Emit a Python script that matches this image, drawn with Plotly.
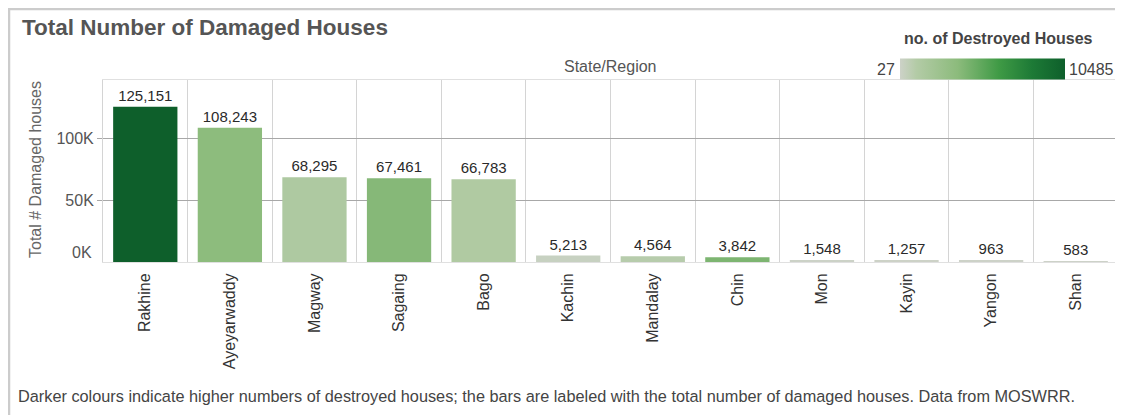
import plotly.graph_objects as go

states = ["Rakhine", "Ayeyarwaddy", "Magway", "Sagaing", "Bago", "Kachin",
          "Mandalay", "Chin", "Mon", "Kayin", "Yangon", "Shan"]
damaged = [125151, 108243, 68295, 67461, 66783, 5213, 4564, 3842, 1548, 1257, 963, 583]
destroyed = [10485, 3600, 1400, 3900, 1300, 250, 900, 4200, 60, 45, 35, 27]
y_tickvals = [0, 50000, 100000]
y_ticktext = ["0K", "50K", "100K"]

colorscale = [[0.0, "#cdd2c8"], [0.1, "#b3cba6"], [0.35, "#8cbb7c"],
              [0.6, "#3f9a45"], [0.8, "#1d7a36"], [1.0, "#0e5f2b"]]

FONT = "Liberation Sans, Arial, sans-serif"

# The page body adds an 8px offset; design in screen pixels and shift.
O = 8
FW, FH = 1123 - O, 415 - O
L, R, T, B = 103, 1118, 80, 262          # plot area in screen pixels
W, H = R - L, B - T
def px(x):
    return (x - L) / W
def py(y):
    return (B - y) / H

fig = go.Figure()
fig.add_trace(go.Bar(
    x=states, y=damaged,
    marker=dict(color=destroyed, colorscale=colorscale, cmin=min(destroyed), cmax=max(destroyed),
                line=dict(width=0),
                colorbar=dict(orientation="h", x=px(982.5), xanchor="center", y=py(68.5), yanchor="middle",
                              thickness=21, len=165, lenmode="pixels", outlinewidth=0, xpad=0, ypad=0,
                              showticklabels=False, ticks="", title=dict(text=""))),
    texttemplate="%{y:,}", textposition="outside", cliponaxis=False,
    textfont=dict(family=FONT, size=15, color="#2a2a2a"),
    showlegend=False, hoverinfo="x+y",
))

fig.update_layout(
    width=FW, height=FH,
    margin=dict(l=L - O, r=FW - (R - O), t=T - O, b=FH - (B - O), autoexpand=False),
    paper_bgcolor="white", plot_bgcolor="white",
    bargap=0.24,
    font=dict(family=FONT, color="#444444"),
    xaxis=dict(type="category", tickson="boundaries", showgrid=True, gridcolor="#d4d4d4", gridwidth=1,
               tickangle=-90, ticks="", ticklen=0, ticklabelstandoff=4,
               tickfont=dict(family=FONT, size=16, color="#333333"),
               showline=True, linecolor="#e0e0e0", mirror=True, zeroline=False),
    yaxis=dict(range=[0, 146800], tickvals=y_tickvals[1:], ticktext=y_ticktext[1:], showgrid=True,
               gridcolor="#a8a8a8", gridwidth=1, zeroline=False, ticks="outside", ticklen=5,
               tickcolor="#a8a8a8", tickfont=dict(family=FONT, size=16, color="#555555"),
               showline=True, linecolor="#d4d4d4", mirror=True),
)

annotations = [
    dict(text="<b>Total Number of Damaged Houses</b>", x=px(20), y=py(28), xanchor="left",
         font=dict(family=FONT, size=22.5, color="#555555")),
    dict(text=y_ticktext[0], x=px(94), y=py(252), xanchor="right",
         font=dict(family=FONT, size=16, color="#555555")),
    dict(text="Total # Damaged houses", x=px(35), y=py(170), textangle=-90,
         font=dict(family=FONT, size=16, color="#666666")),
    dict(text="State/Region", x=px(610), y=py(66),
         font=dict(family=FONT, size=16, color="#555555")),
    dict(text="<b>no. of Destroyed Houses</b>", x=px(998), y=py(39),
         font=dict(family=FONT, size=16, color="#444444")),
    dict(text=str(min(destroyed)), x=px(897), y=py(69), xanchor="right",
         font=dict(family=FONT, size=16, color="#444444")),
    dict(text=str(max(destroyed)), x=px(1067), y=py(69), xanchor="left",
         font=dict(family=FONT, size=16, color="#444444")),
    dict(text="Darker colours indicate higher numbers of destroyed houses; the bars are labeled with the total number of damaged houses. Data from MOSWRR.",
         x=px(16), y=py(396), xanchor="left",
         font=dict(family=FONT, size=16.3, color="#444444")),
]
for a in annotations:
    a.setdefault("xanchor", "center")
    a.update(xref="paper", yref="paper", yanchor="middle", showarrow=False)
fig.update_layout(annotations=annotations)

fig.add_shape(type="rect", xref="paper", yref="paper", x0=px(9), x1=px(1128), y0=py(420), y1=py(9),
              line=dict(color="#cccccc", width=2.5), fillcolor="rgba(0,0,0,0)", layer="below")

fig.write_html("out.html")
